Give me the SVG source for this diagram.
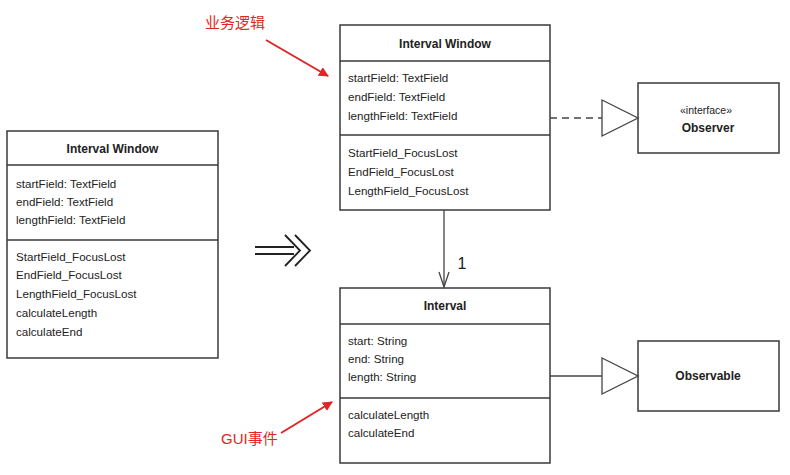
<svg xmlns="http://www.w3.org/2000/svg" width="790" height="475" viewBox="0 0 790 475">
<defs>
<style>
.box{fill:#fff;stroke:#3a3a3a;stroke-width:1.5}
.sep{stroke:#3a3a3a;stroke-width:1.5}
.t{font-family:"Liberation Sans",Arial,sans-serif;font-size:11.6px;fill:#222}
.b{font-family:"Liberation Sans",Arial,sans-serif;font-size:12px;font-weight:bold;fill:#222}
.red{font-family:"Liberation Sans","Noto Sans CJK SC",sans-serif;font-size:15px;fill:#e02525}
.ln{stroke:#444;stroke-width:1.3;fill:none}
.ra{stroke:#e02525;stroke-width:2;fill:none}
.dbl{stroke:#222;stroke-width:1.8;fill:none}
</style>
<marker id="redhead" viewBox="0 0 10 10" refX="9" refY="5" markerWidth="5" markerHeight="5" orient="auto">
<path d="M0,0 L10,5 L0,10 z" fill="#e02525"/>
</marker>
</defs>
<rect width="790" height="475" fill="#fff"/>

<g id="interval-window-left">
<rect class="box" x="7" y="131" width="211" height="227"/>
<line class="sep" x1="7" y1="165" x2="218" y2="165"/>
<line class="sep" x1="7" y1="240" x2="218" y2="240"/>
<text class="b" x="112.5" y="153" text-anchor="middle">Interval Window</text>
<text class="t" x="16" y="188">startField: TextField</text>
<text class="t" x="16" y="206">endField: TextField</text>
<text class="t" x="16" y="224">lengthField: TextField</text>
<text class="t" x="16" y="261">StartField_FocusLost</text>
<text class="t" x="16" y="279">EndField_FocusLost</text>
<text class="t" x="16" y="298">LengthField_FocusLost</text>
<text class="t" x="16" y="317">calculateLength</text>
<text class="t" x="16" y="336">calculateEnd</text>
</g>

<g id="refactor-arrow">
<line class="dbl" x1="255" y1="247" x2="294" y2="247"/>
<line class="dbl" x1="255" y1="254" x2="294" y2="254"/>
<polyline class="dbl" points="285,235 300,250.5 285,266"/>
<polyline class="dbl" points="295,235 310,250.5 295,266"/>
</g>

<g id="interval-window">
<rect class="box" x="340" y="25" width="210" height="185"/>
<line class="sep" x1="340" y1="61" x2="550" y2="61"/>
<line class="sep" x1="340" y1="135" x2="550" y2="135"/>
<text class="b" x="445" y="48" text-anchor="middle">Interval Window</text>
<text class="t" x="348" y="82">startField: TextField</text>
<text class="t" x="348" y="101">endField: TextField</text>
<text class="t" x="348" y="120">lengthField: TextField</text>
<text class="t" x="348" y="157">StartField_FocusLost</text>
<text class="t" x="348" y="176">EndField_FocusLost</text>
<text class="t" x="348" y="195">LengthField_FocusLost</text>
</g>

<g id="interval">
<rect class="box" x="340" y="288" width="210" height="175"/>
<line class="sep" x1="340" y1="324" x2="550" y2="324"/>
<line class="sep" x1="340" y1="398" x2="550" y2="398"/>
<text class="b" x="445" y="310" text-anchor="middle">Interval</text>
<text class="t" x="348" y="345">start: String</text>
<text class="t" x="348" y="363">end: String</text>
<text class="t" x="348" y="381">length: String</text>
<text class="t" x="348" y="419">calculateLength</text>
<text class="t" x="348" y="437">calculateEnd</text>
</g>

<g id="observer">
<rect class="box" x="638" y="83" width="141" height="70"/>
<text class="t" x="706" y="114" text-anchor="middle" style="font-size:10.5px">«interface»</text>
<text class="b" x="708" y="132" text-anchor="middle">Observer</text>
</g>

<g id="observable">
<rect class="box" x="638" y="341" width="141" height="70"/>
<text class="b" x="708" y="380" text-anchor="middle">Observable</text>
</g>

<g id="connectors">
<line class="ln" x1="550" y1="118" x2="602" y2="118" stroke-dasharray="7,5"/>
<polygon class="ln" points="602,100 638,118 602,136" fill="#fff"/>
<line class="ln" x1="550" y1="376" x2="602" y2="376"/>
<polygon class="ln" points="602,358 638,376 602,394" fill="#fff"/>
<line class="ln" x1="444" y1="210" x2="444" y2="287"/>
<polyline class="ln" points="439,272 444,287 449,272"/>
<text class="t" x="462" y="269" text-anchor="middle" style="font-size:16px">1</text>
</g>

<g id="annotations">
<text class="red" x="205" y="28">业务逻辑</text>
<line class="ra" x1="266" y1="40" x2="328" y2="76" marker-end="url(#redhead)"/>
<text class="red" x="221" y="444">GUI事件</text>
<line class="ra" x1="281" y1="433" x2="332" y2="402" marker-end="url(#redhead)"/>
</g>
</svg>
